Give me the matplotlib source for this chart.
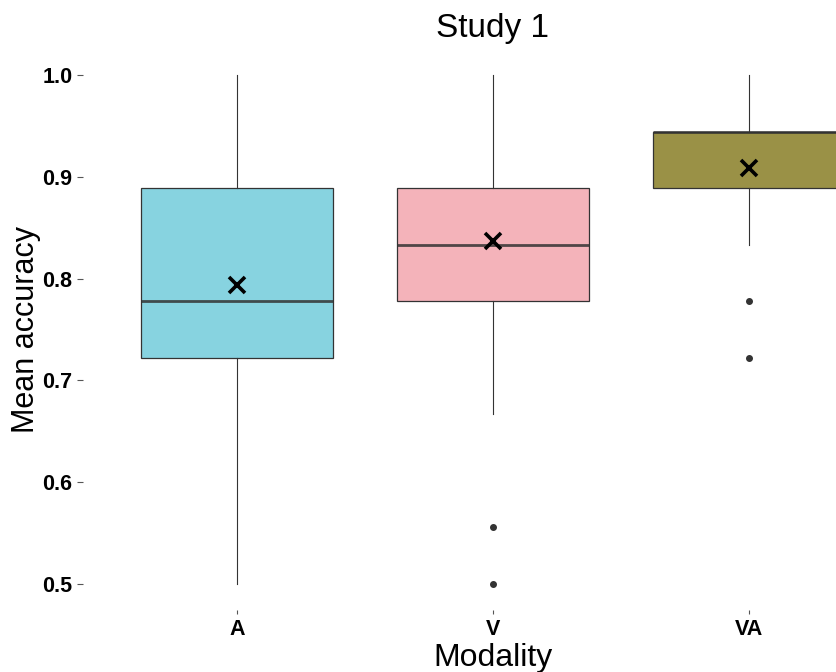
import matplotlib
matplotlib.use("Agg")
from matplotlib import pyplot as plt

plt.rcParams['font.family'] = ['Liberation Sans', 'DejaVu Sans']

# summary stats per modality (accuracy on a 0..1 scale)
modalities = ["A", "V", "VA"]
q1 = [0.722, 0.778, 0.889]
medians = [0.778, 0.833, 0.944]
q3 = [0.889, 0.889, 0.944]
whisker_lo = [0.500, 0.667, 0.833]
whisker_hi = [1.000, 1.000, 1.000]
means = [0.794, 0.837, 0.909]
outliers = [[], [0.556, 0.500], [0.778, 0.722]]
fills = ["#87D3E0", "#F4B3BA", "#9A9146"]

stats = []
for i, name in enumerate(modalities):
    stats.append(dict(label=name, q1=q1[i], med=medians[i], q3=q3[i],
                      whislo=whisker_lo[i], whishi=whisker_hi[i],
                      mean=means[i], fliers=outliers[i]))

fig = plt.figure(figsize=(8.37, 6.72), dpi=100)
# panel runs a little past the right edge of the figure, so the last box is cut
ax = fig.add_axes([83 / 837, 1 - 609.5 / 672, 820 / 837, 560 / 672])

bp = ax.bxp(stats, positions=[1, 2, 3], widths=0.75, patch_artist=True,
            showmeans=True, showcaps=False,
            boxprops=dict(edgecolor="#333333", linewidth=0.9),
            whiskerprops=dict(color="#333333", linewidth=0.8),
            medianprops=dict(color="#333333", linewidth=2, alpha=0.85),
            meanprops=dict(marker="x", markersize=11, markeredgecolor="black",
                           markeredgewidth=2.6),
            flierprops=dict(marker="o", markersize=4, markerfacecolor="#333333",
                            markeredgecolor="#333333"))
for patch, c in zip(bp["boxes"], fills):
    patch.set_facecolor(c)

ax.set_xlim(0.4, 3.6)
ax.set_ylim(0.475, 1.025)
ax.set_yticks([0.5, 0.6, 0.7, 0.8, 0.9, 1.0])
ax.set_yticklabels(["0.5", "0.6", "0.7", "0.8", "0.9", "1.0"])
for s in ax.spines.values():
    s.set_visible(False)
ax.tick_params(axis="y", length=4, width=0.8, color="#555555", pad=3.5,
               labelsize=15.5, labelcolor="black")
ax.tick_params(axis="x", length=3, width=0.8, color="#555555", pad=4,
               labelsize=15.5, labelcolor="black")
for lab in ax.get_xticklabels() + ax.get_yticklabels():
    lab.set_fontweight("bold")

ax.set_title("Study 1", fontsize=24, pad=9)
ax.set_xlabel("Modality", fontsize=23, labelpad=2)
ax.set_ylabel("Mean accuracy", fontsize=22, labelpad=1)

fig.savefig("out.png", dpi=100)
